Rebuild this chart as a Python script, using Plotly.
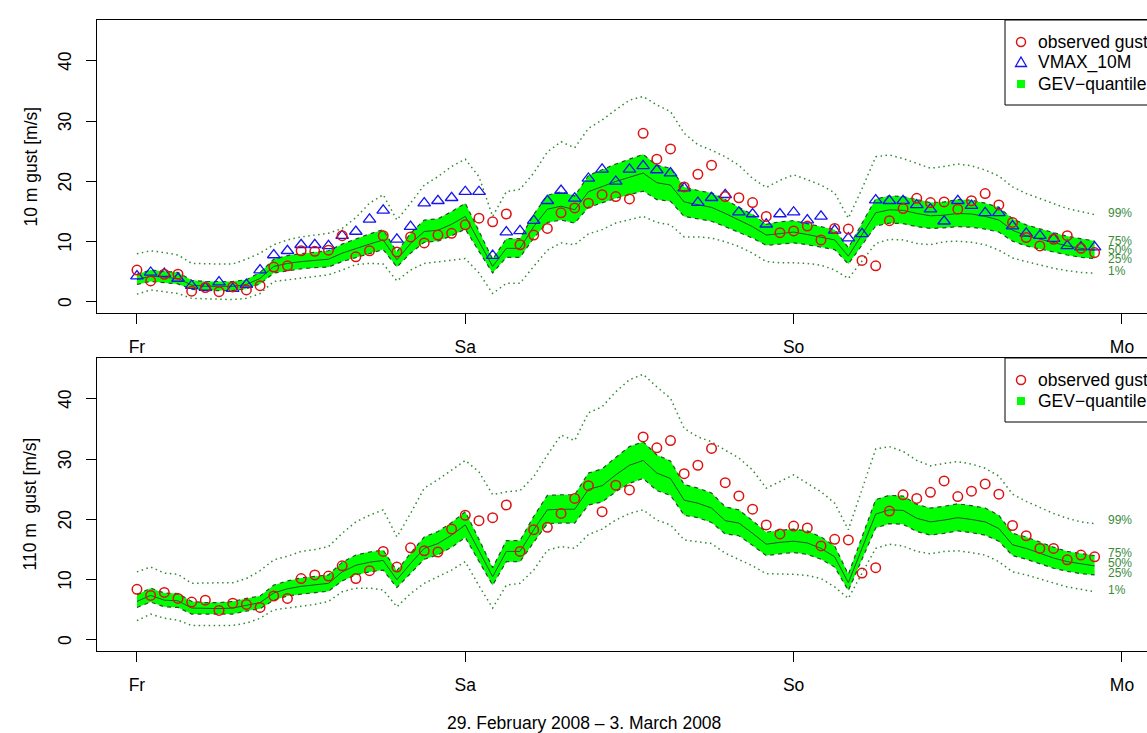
import plotly.graph_objects as go

# ---------------- data (hours after Friday 00 UTC) ----------------
hours = list(range(71))
day_ticks = [0, 24, 48, 72]
day_labels = ["Fr", "Sa", "So", "Mo"]
y_ticks = [0, 10, 20, 30, 40]

# 10 m panel
obs10 = [5.3, 3.5, 4.6, 4.6, 1.8, 2.4, 1.7, 2.5, 2.0, 2.7, 5.8, 6.0, 8.5, 8.4, 8.6, 11.0, 7.5, 8.5,
         11.0, 8.3, 10.8, 9.8, 11.1, 11.4, 12.8, 13.9, 13.3, 14.6, 9.5, 11.1, 12.2, 14.8, 15.6, 16.4,
         17.8, 17.5, 17.1, 28.0, 23.7, 25.4, 19.1, 21.2, 22.7, 17.5, 17.3, 16.5, 14.2, 11.5, 11.8,
         12.6, 10.3, 12.2, 12.1, 6.9, 6.0, 13.5, 15.5, 17.2, 16.5, 16.6, 15.4, 16.8, 18.0, 16.1, 13.2,
         10.7, 9.3, 10.4, 11.0, 8.9, 8.2]
vmax10 = [4.3, 4.9, 4.7, 3.9, 2.7, 2.4, 3.3, 2.2, 2.9, 5.3, 7.8, 8.5, 9.5, 9.5, 9.3, 11.0, 11.7, 13.7,
          15.2, 10.4, 12.5, 16.4, 16.8, 17.3, 18.3, 18.3, 7.7, 11.6, 11.8, 13.5, 16.8, 18.5, 17.2, 20.5,
          22.0, 20.0, 22.0, 22.6, 21.9, 21.4, 18.9, 16.5, 17.3, 17.8, 14.9, 14.6, 12.9, 14.6, 14.9,
          13.6, 14.2, 11.9, 10.6, 11.3, 16.9, 16.8, 16.8, 16.1, 15.4, 13.4, 16.8, 16.0, 14.8, 14.8,
          12.6, 11.4, 11.0, 10.5, 9.3, 9.1, 9.1]
q50_10 = [3.7, 4.3, 4.1, 3.9, 2.8, 2.6, 2.6, 2.6, 2.9, 3.9, 5.9, 6.4, 6.7, 6.9, 7.1, 8.1, 8.9, 9.6,
          10.3, 7.0, 9.7, 11.7, 11.9, 12.9, 14.2, 10.0, 5.9, 8.9, 8.9, 12.5, 15.4, 15.9, 15.3, 18.3,
          19.2, 20.0, 20.7, 21.4, 19.8, 19.4, 16.6, 16.1, 15.7, 14.7, 13.6, 12.5, 11.1, 11.4, 11.6,
          11.2, 10.8, 10.3, 7.6, 11.2, 14.8, 15.3, 15.2, 14.7, 14.3, 14.4, 14.7, 14.6, 14.2, 13.6,
          11.9, 11.0, 10.4, 9.8, 9.3, 8.9, 8.6]
q75_10 = [4.6, 5.3, 5.1, 4.9, 3.6, 3.4, 3.4, 3.4, 3.7, 4.9, 7.1, 7.7, 8.0, 8.2, 8.5, 9.6, 10.5, 11.3,
          12.0, 8.3, 11.4, 13.6, 13.8, 15.0, 16.4, 11.7, 7.1, 10.5, 10.5, 14.5, 17.7, 18.3, 17.6, 21.0,
          22.0, 22.9, 23.7, 24.5, 22.7, 22.2, 19.1, 18.5, 18.1, 17.0, 15.7, 14.5, 12.9, 13.3, 13.5,
          13.0, 12.6, 12.0, 9.0, 13.0, 17.1, 17.6, 17.5, 17.0, 16.5, 16.6, 17.0, 16.9, 16.4, 15.7,
          13.8, 12.8, 12.1, 11.5, 10.9, 10.5, 10.1]
q25_10 = [2.9, 3.4, 3.2, 3.0, 2.1, 1.9, 1.9, 1.9, 2.2, 3.0, 4.8, 5.2, 5.5, 5.7, 5.8, 6.7, 7.4, 8.0,
          8.7, 5.8, 8.1, 9.9, 10.1, 11.0, 12.1, 8.4, 4.8, 7.4, 7.4, 10.6, 13.2, 13.6, 13.1, 15.7,
          16.5, 17.2, 17.8, 18.4, 17.0, 16.7, 14.2, 13.8, 13.4, 12.5, 11.6, 10.6, 9.4, 9.6, 9.8,
          9.5, 9.1, 8.7, 6.3, 9.5, 12.6, 13.1, 13.0, 12.5, 12.2, 12.3, 12.5, 12.4, 12.1, 11.6,
          10.1, 9.3, 8.8, 8.2, 7.8, 7.4, 7.2]
q01_10 = [1.3, 2.0, 1.7, 1.4, 0.6, 0.5, 0.5, 0.4, 0.6, 1.4, 3.4, 3.7, 3.9, 4.2, 4.5, 5.3, 6.2, 6.4,
          6.3, 3.5, 5.3, 6.4, 6.7, 7.0, 7.2, 4.8, 1.4, 3.1, 3.1, 5.9, 8.6, 9.8, 9.5, 11.3, 12.0, 13.1,
          13.6, 14.2, 13.2, 12.8, 10.8, 10.8, 10.6, 10.0, 9.2, 8.1, 6.7, 6.5, 6.5, 6.4, 6.1, 5.3, 3.9,
          6.9, 9.7, 10.4, 10.3, 9.7, 9.5, 10.0, 10.1, 9.9, 9.5, 8.6, 7.3, 6.7, 6.1, 5.6, 5.2, 4.9, 4.8]
q99_10 = [8.0, 8.5, 8.2, 7.8, 6.4, 6.3, 6.3, 6.3, 7.1, 8.1, 9.5, 10.3, 10.8, 11.1, 11.4, 12.2, 14.0,
          16.4, 17.8, 13.6, 16.4, 19.4, 20.8, 22.5, 23.7, 20.8, 14.2, 18.3, 18.7, 21.4, 24.9, 26.6,
          25.6, 28.8, 30.2, 31.9, 33.5, 34.1, 32.7, 31.6, 28.0, 26.1, 25.2, 24.1, 22.7, 20.5, 19.0,
          20.2, 21.1, 20.3, 19.4, 18.1, 13.9, 18.8, 24.1, 24.4, 23.8, 23.0, 22.2, 22.5, 22.9, 22.6,
          21.9, 20.9, 19.1, 18.0, 17.2, 16.4, 15.5, 15.0, 14.5]

# 110 m panel
obs110 = [8.4, 7.4, 7.9, 6.9, 6.3, 6.6, 4.9, 6.1, 5.9, 5.4, 7.3, 6.9, 10.2, 10.8, 10.6, 12.3, 10.2,
          11.5, 14.7, 12.1, 15.3, 14.8, 14.6, 18.4, 20.7, 19.8, 20.3, 22.4, 14.7, 18.3, 18.7, 21.0,
          23.5, 25.6, 21.3, 25.7, 24.9, 33.7, 31.9, 33.1, 27.6, 29.0, 31.8, 26.1, 23.9, 21.7, 19.1,
          17.6, 18.9, 18.6, 15.6, 16.7, 16.6, 11.1, 12.0, 21.4, 24.1, 23.5, 24.5, 26.4, 23.8, 24.7,
          25.9, 24.2, 19.0, 17.3, 15.2, 15.2, 13.3, 14.1, 13.8]
q50_110 = [6.4, 7.4, 6.6, 6.5, 5.3, 5.2, 5.2, 5.3, 5.8, 6.2, 7.8, 8.5, 8.9, 9.2, 9.4, 11.3, 12.4, 12.9,
           13.2, 10.0, 12.7, 15.2, 16.0, 17.4, 19.1, 14.8, 10.5, 14.7, 14.7, 18.3, 21.6, 21.7, 21.7,
           25.0, 25.6, 27.4, 29.0, 29.8, 27.7, 26.8, 23.2, 22.7, 21.9, 19.8, 19.4, 17.7, 15.9, 16.2,
           16.4, 16.1, 15.2, 13.8, 9.5, 15.2, 20.9, 21.6, 21.5, 20.2, 19.6, 19.9, 20.3, 20.0, 19.6,
           18.5, 15.8, 15.2, 14.4, 13.6, 13.0, 12.6, 12.3]
q75_110 = [7.5, 8.6, 7.8, 7.7, 6.4, 6.2, 6.2, 6.4, 6.9, 7.3, 9.1, 9.8, 10.3, 10.6, 10.8, 12.9, 14.1,
           14.6, 14.9, 11.5, 14.4, 17.1, 18.0, 19.5, 21.3, 16.7, 12.0, 16.5, 16.5, 20.5, 24.0, 24.1,
           24.1, 27.7, 28.4, 30.3, 32.1, 32.9, 30.7, 29.7, 25.8, 25.2, 24.4, 22.1, 21.6, 19.8, 17.9,
           18.2, 18.4, 18.1, 17.1, 15.6, 10.9, 17.1, 23.3, 24.0, 23.9, 22.5, 21.9, 22.2, 22.6, 22.3,
           21.9, 20.7, 17.7, 17.1, 16.2, 15.4, 14.7, 14.3, 14.0]
q25_110 = [5.4, 6.3, 5.5, 5.4, 4.3, 4.3, 4.3, 4.3, 4.8, 5.2, 6.6, 7.3, 7.6, 7.9, 8.1, 9.8, 10.8, 11.3,
           11.6, 8.7, 11.1, 13.4, 14.1, 15.4, 17.0, 13.0, 9.1, 13.0, 13.0, 16.2, 19.3, 19.4, 19.4,
           22.4, 22.9, 24.6, 26.0, 26.8, 24.8, 24.0, 20.7, 20.3, 19.5, 17.6, 17.3, 15.7, 14.0, 14.3,
           14.5, 14.2, 13.4, 12.1, 8.2, 13.4, 18.6, 19.3, 19.2, 18.0, 17.4, 17.7, 18.1, 17.8, 17.4,
           16.4, 14.0, 13.4, 12.7, 11.9, 11.4, 11.0, 10.8]
q01_110 = [3.2, 4.3, 3.6, 3.3, 2.4, 2.4, 2.4, 2.4, 2.8, 3.6, 5.0, 5.3, 5.5, 5.9, 6.4, 8.0, 8.6, 8.6,
           8.3, 5.5, 7.7, 9.4, 10.5, 11.6, 13.0, 9.0, 5.3, 9.1, 9.4, 11.6, 14.9, 15.5, 15.2, 17.5,
           18.4, 19.9, 21.0, 21.6, 19.9, 19.1, 16.6, 16.3, 16.0, 14.4, 13.3, 12.3, 11.0, 11.0, 10.9,
           10.7, 10.2, 8.8, 6.9, 11.1, 15.2, 15.9, 15.6, 14.7, 14.3, 14.7, 14.8, 14.5, 14.1, 13.0,
           11.3, 10.8, 10.1, 9.4, 8.8, 8.4, 8.0]
q99_110 = [11.3, 12.1, 11.1, 10.9, 9.4, 9.5, 9.5, 9.5, 10.2, 11.5, 13.3, 13.9, 14.7, 15.0, 15.5, 17.7,
           19.6, 20.7, 21.6, 17.1, 21.0, 25.2, 26.6, 28.2, 29.8, 27.9, 24.1, 24.6, 24.8, 27.1, 30.7,
           34.0, 33.1, 37.7, 38.7, 41.2, 43.2, 44.1, 42.0, 40.1, 35.1, 33.7, 32.9, 31.5, 30.2, 28.2,
           25.2, 26.3, 27.4, 26.0, 24.6, 22.7, 18.3, 25.0, 31.7, 32.1, 31.3, 29.8, 28.9, 29.3, 29.6,
           29.2, 28.5, 27.2, 24.2, 23.0, 22.0, 21.0, 20.2, 19.6, 19.3]

quant_names = ["99%", "75%", "50%", "25%", "1%"]
label_y10 = [14.8, 10.1, 8.6, 7.1, 5.1]
label_y110 = [19.9, 14.4, 12.8, 11.1, 8.3]

# ---------------- styling ----------------
W, H = 1147, 733
ML, MR, MT, MB = 97, 0, 20, 82
PW = W - ML - MR
PH = H - MT - MB
FONT = "Liberation Sans, Arial, Helvetica, sans-serif"
FS = 17.5
GREEN_FILL = "#00FF00"
EDGE = "#2f4a2f"
DOT = "#2f8a2f"
MED = "#2f4f2f"
LBL = "#3a8a3a"
RED = "#dd1111"
BLUE = "#1515ee"
XR = [-2.92, 73.83]
YR = [-1.83, 46.8]


def px_x(p):
    return (p - ML) / PW


def px_y(p):
    return (H - MB - p) / PH


fig = go.Figure()


def add_panel(xa, ya, q01, q25, q50, q75, q99, obs, vmax=None):
    fig.add_trace(go.Scatter(x=hours, y=q25, mode="lines", xaxis=xa, yaxis=ya,
                             line=dict(color=EDGE, width=1.2, dash="4px,4px"),
                             showlegend=False, hoverinfo="skip"))
    fig.add_trace(go.Scatter(x=hours, y=q75, mode="lines", xaxis=xa, yaxis=ya,
                             fill="tonexty", fillcolor=GREEN_FILL,
                             line=dict(color=EDGE, width=1.2, dash="4px,4px"),
                             showlegend=False, hoverinfo="skip"))
    fig.add_trace(go.Scatter(x=hours, y=q50, mode="lines", xaxis=xa, yaxis=ya,
                             line=dict(color=MED, width=1),
                             showlegend=False, hoverinfo="skip"))
    for q in (q01, q99):
        fig.add_trace(go.Scatter(x=hours, y=q, mode="lines", xaxis=xa, yaxis=ya,
                                 line=dict(color=DOT, width=1.5, dash="1.5px,3.5px"),
                                 showlegend=False, hoverinfo="skip"))
    if vmax is not None:
        fig.add_trace(go.Scatter(x=hours, y=vmax, mode="markers", xaxis=xa, yaxis=ya,
                                 marker=dict(symbol="triangle-up-open", size=11,
                                             color=BLUE, line=dict(width=1.3, color=BLUE)),
                                 showlegend=False))
    fig.add_trace(go.Scatter(x=hours, y=obs, mode="markers", xaxis=xa, yaxis=ya,
                             marker=dict(symbol="circle-open", size=9.5,
                                         color=RED, line=dict(width=1.5, color=RED)),
                             showlegend=False))


add_panel("x", "y", q01_10, q25_10, q50_10, q75_10, q99_10, obs10, vmax10)
add_panel("x2", "y2", q01_110, q25_110, q50_110, q75_110, q99_110, obs110)

top_dom = [px_y(313), 1.0]
bot_dom = [0.0, px_y(358)]

axis_common = dict(showgrid=False, zeroline=False, showline=True, linecolor="black",
                   linewidth=1, ticks="outside", ticklen=10, tickwidth=1,
                   tickcolor="black", tickfont=dict(family=FONT, size=FS, color="black"))

xcommon = dict(axis_common, range=XR, tickmode="array", tickvals=day_ticks,
               ticktext=day_labels, mirror=True, ticklabelstandoff=8)
ycommon = dict(axis_common, range=YR, tickmode="array", tickvals=y_ticks,
               showticklabels=False)

fig.update_layout(
    width=W, height=H,
    margin=dict(l=ML, r=MR, t=MT, b=MB, pad=0),
    paper_bgcolor="white", plot_bgcolor="white",
    font=dict(family=FONT, size=FS, color="black"),
    showlegend=False,
    xaxis=dict(xcommon, domain=[0, 1], anchor="y"),
    yaxis=dict(ycommon, domain=top_dom, anchor="x"),
    xaxis2=dict(xcommon, domain=[0, 1], anchor="y2"),
    yaxis2=dict(ycommon, domain=bot_dom, anchor="x2"),
)

ann = []
# rotated y tick labels (R style, las=0)
for ya in ("y", "y2"):
    for v in y_ticks:
        ann.append(dict(text=str(v), xref="paper", yref=ya, x=px_x(65), y=v,
                        xanchor="center", yanchor="middle", textangle=-90,
                        showarrow=False, font=dict(family=FONT, size=FS, color="black")))
# y-axis titles
ann.append(dict(text="10 m gust [m/s]", xref="paper", yref="paper", x=px_x(30),
                y=(top_dom[0] + top_dom[1]) / 2, xanchor="center", yanchor="middle",
                textangle=-90, showarrow=False, font=dict(family=FONT, size=FS)))
ann.append(dict(text="110 m\u00a0 gust [m/s]", xref="paper", yref="paper", x=px_x(30),
                y=(bot_dom[0] + bot_dom[1]) / 2, xanchor="center", yanchor="middle",
                textangle=-90, showarrow=False, font=dict(family=FONT, size=FS)))
# bottom title
ann.append(dict(text="29. February 2008 \u2013 3. March 2008", xref="paper", yref="paper",
                x=px_x(583.5), y=px_y(723), xanchor="center", yanchor="middle",
                showarrow=False, font=dict(family=FONT, size=FS)))
# quantile labels
for xa, ya, ys in (("x", "y", label_y10), ("x2", "y2", label_y110)):
    for name, yv in zip(quant_names, ys):
        ann.append(dict(text=name, xref=xa, yref=ya, x=70.8, y=yv, xanchor="left",
                        yanchor="middle", showarrow=False,
                        font=dict(family=FONT, size=12, color=LBL)))

shapes = []


def legend_box(top, items):
    bottom = top + 22 + 21 * (len(items) - 1) + 21
    shapes.append(dict(type="rect", xref="paper", yref="paper", x0=px_x(1005), x1=1.2,
                       y0=px_y(bottom), y1=px_y(top), line=dict(color="black", width=1),
                       fillcolor="white", layer="above"))
    for i, (kind, label) in enumerate(items):
        cy = top + 22 + 21 * i
        xa, ya = px_x(1021), px_y(cy)
        if kind == "circle":
            shapes.append(dict(type="circle", xref="paper", yref="paper", xsizemode="pixel",
                               ysizemode="pixel", xanchor=xa, yanchor=ya, x0=-4.5, x1=4.5,
                               y0=-4.5, y1=4.5, line=dict(color=RED, width=1.5), layer="above"))
        elif kind == "tri":
            shapes.append(dict(type="path", xref="paper", yref="paper", xsizemode="pixel",
                               ysizemode="pixel", xanchor=xa, yanchor=ya,
                               path="M -5.5,-3.5 L 5.5,-3.5 L 0,6 Z",
                               line=dict(color=BLUE, width=1.3), layer="above"))
        else:
            shapes.append(dict(type="rect", xref="paper", yref="paper", xsizemode="pixel",
                               ysizemode="pixel", xanchor=xa, yanchor=ya, x0=-4, x1=4,
                               y0=-4, y1=4, line=dict(color=GREEN_FILL, width=0),
                               fillcolor=GREEN_FILL, layer="above"))
        ann.append(dict(text=label, xref="paper", yref="paper", x=px_x(1036), y=ya,
                        xanchor="left", yanchor="middle", showarrow=False,
                        font=dict(family=FONT, size=FS, color="black")))


legend_box(20, [("circle", "observed gust"), ("tri", "VMAX_10M"),
                ("square", "GEV\u2212quantiles")])
legend_box(358, [("circle", "observed gust"), ("square", "GEV\u2212quantiles")])

fig.update_layout(annotations=ann, shapes=shapes)
fig.write_html("out.html")
